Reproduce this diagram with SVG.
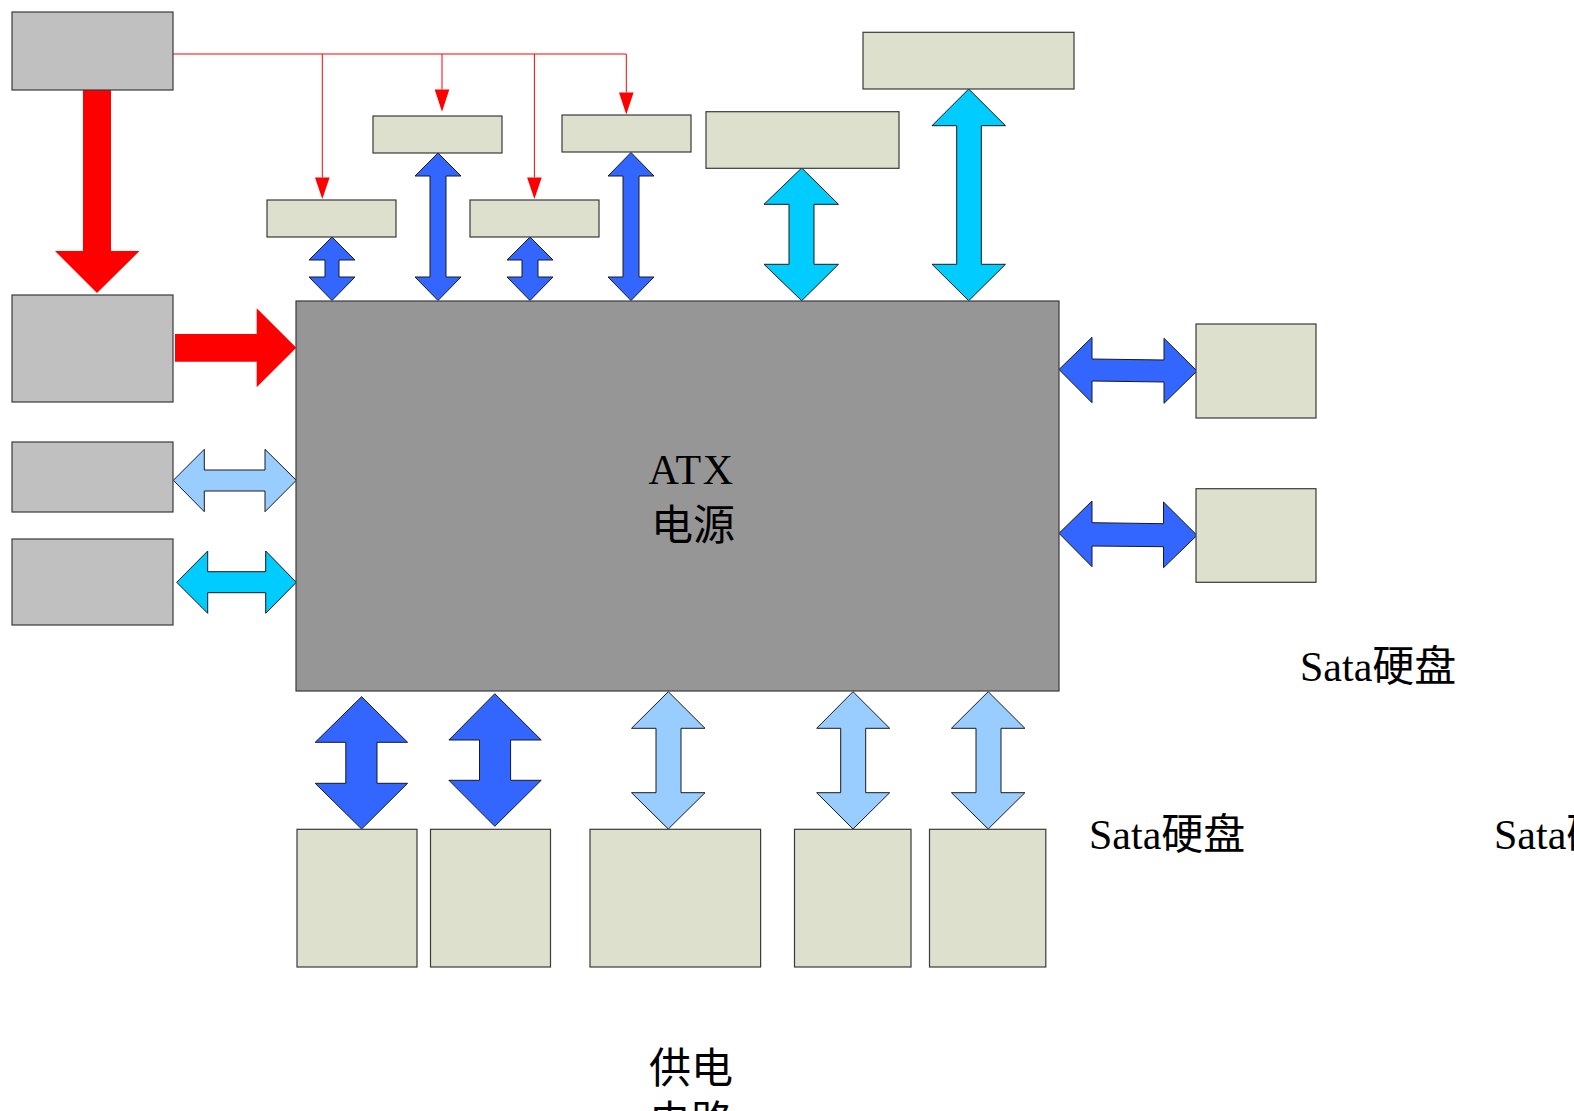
<svg xmlns="http://www.w3.org/2000/svg" width="1574" height="1111" viewBox="0 0 1574 1111">
<style>
.gray{fill:#c0c0c0;stroke:#3a3a3a;stroke-width:1.2}
.beige{fill:#dde0cc;stroke:#3a3a3a;stroke-width:1.2}
.main{fill:#969696;stroke:#3a3a3a;stroke-width:1.2}
.blue{fill:#3366ff;stroke:#1a1a1a;stroke-width:1}
.lblue{fill:#99ccff;stroke:#1a1a1a;stroke-width:1}
.cyan{fill:#00ccff;stroke:#1a1a1a;stroke-width:1}
.red{fill:#ff0000;stroke:none}
.wire{fill:none;stroke:#ff0000;stroke-width:1}
.txt{font-family:"Liberation Serif","Noto Sans CJK SC",serif;fill:#000}
</style>
<rect width="1574" height="1111" fill="#ffffff"/>

<g id="connectors">
<polyline class="wire" points="173,54 626.3,54"/>
<line class="wire" x1="322.3" y1="54" x2="322.3" y2="177.5"/>
<polygon class="red" points="315,177.5 329.6,177.5 322.3,199"/>
<line class="wire" x1="442" y1="54" x2="442" y2="89.5"/>
<polygon class="red" points="434.7,89.5 449.3,89.5 442,111.7"/>
<line class="wire" x1="534.4" y1="54" x2="534.4" y2="177.5"/>
<polygon class="red" points="527.1,177.5 541.7,177.5 534.4,199"/>
<line class="wire" x1="626.3" y1="54" x2="626.3" y2="92.5"/>
<polygon class="red" points="619,92.5 633.6,92.5 626.3,114.5"/>

<polygon class="red" points="83,90 111,90 111,251 139.5,251 97,293 55,251 83,251"/>
<polygon class="red" points="175,334 256.7,334 256.7,308.3 296.3,347.7 256.7,387.3 256.7,361.7 175,361.7"/>

<polygon class="blue" points="332,237 355,260 339,260 339,277 355,277 332,300.5 309,277 325,277 325,260 309,260"/>
<polygon class="blue" points="438,153 461,176 446,176 446,277 461,277 438,300.5 415,277 430,277 430,176 415,176"/>
<polygon class="blue" points="530,237 553,260 538,260 538,277 553,277 530,300.5 507,277 522,277 522,260 507,260"/>
<polygon class="blue" points="631,152.5 654,176 639,176 639,277 654,277 631,300.5 608,277 623,277 623,176 608,176"/>
<polygon class="cyan" points="801.7,168 838.5,204.3 814,204.3 814,264.3 838.5,264.3 801.7,300.7 764,264.3 789,264.3 789,204.3 764,204.3"/>
<polygon class="cyan" points="968.7,89 1005.5,125.7 981.3,125.7 981.3,264.3 1005.5,264.3 968.7,300.7 932,264.3 956.7,264.3 956.7,125.7 932,125.7"/>

<polygon class="lblue" points="173.3,480.3 204.3,449.3 204.3,470 265,470 265,449.3 296.3,480.3 265,511.7 265,491 204.3,491 204.3,511.7"/>
<polygon class="cyan" points="176.7,582.3 207.7,551 207.7,571.7 265.7,571.7 265.7,551 296.3,582.3 265.7,613.3 265.7,592.7 207.7,592.7 207.7,613.3"/>

<polygon class="blue" points="1059,369.5 1092,337.3 1092,359 1164,360 1164,338.3 1197,371 1164,403.3 1164,382 1092,381 1092,402.7"/>
<polygon class="blue" points="1059,533.3 1092,501 1092,522.7 1163.5,523.7 1163.5,502 1197,535.3 1163.5,567.7 1163.5,546.7 1092,546 1092,566.7"/>

<polygon class="blue" points="361.6,696.7 407.6,742.3 377,742.3 377,783.3 407.6,783.3 361.6,829 315.2,783.3 345.8,783.3 345.8,742.3 315.2,742.3"/>
<polygon class="blue" points="494.8,693.7 541.2,740 510.6,740 510.6,780.3 541.2,780.3 494.8,826.3 448.9,780.3 479.5,780.3 479.5,740 448.9,740"/>
<polygon class="lblue" points="668.3,691.7 705,728.3 681,728.3 681,792.7 705,792.7 668.3,829 631.5,792.7 656,792.7 656,728.3 631.5,728.3"/>
<polygon class="lblue" points="853,691.7 889.7,728.3 865.7,728.3 865.7,792.7 889.7,792.7 853,829 816.7,792.7 840.7,792.7 840.7,728.3 816.7,728.3"/>
<polygon class="lblue" points="988.2,691.7 1024.9,728.3 1001,728.3 1001,792.7 1024.9,792.7 988.2,829 951.4,792.7 976,792.7 976,728.3 951.4,728.3"/>
</g>

<g id="node-src"><rect class="gray" x="12" y="12" width="161" height="78"/></g>
<g id="node-left1"><rect class="gray" x="12" y="295" width="161" height="107"/></g>
<g id="node-left2"><rect class="gray" x="12" y="442" width="161" height="70"/></g>
<g id="node-left3"><rect class="gray" x="12" y="539" width="161" height="86"/></g>

<g id="node-top1"><rect class="beige" x="267" y="200" width="129" height="37"/></g>
<g id="node-top2"><rect class="beige" x="373" y="116" width="129" height="37"/></g>
<g id="node-top3"><rect class="beige" x="470" y="200" width="129" height="37"/></g>
<g id="node-top4"><rect class="beige" x="562" y="115" width="129" height="37"/></g>
<g id="node-top5"><rect class="beige" x="706" y="111.7" width="193" height="56.6"/></g>
<g id="node-top6"><rect class="beige" x="863" y="32.3" width="211" height="56.7"/></g>

<g id="node-atx">
<rect class="main" x="296" y="301" width="763" height="390"/>
<text class="txt" x="691.5" y="484.3" font-size="42" text-anchor="middle" letter-spacing="1.5">ATX</text>
<text class="txt" x="693" y="539.5" font-size="42" text-anchor="middle">电源</text>
</g>

<g id="node-right1"><rect class="beige" x="1196" y="324" width="120" height="94"/></g>
<g id="node-right2"><rect class="beige" x="1196" y="488.7" width="120" height="93.6"/></g>

<g id="node-bot1"><rect class="beige" x="297" y="829.3" width="120" height="137.7"/></g>
<g id="node-bot2"><rect class="beige" x="430.5" y="829.3" width="120" height="137.7"/></g>
<g id="node-bot3"><rect class="beige" x="590" y="829.3" width="170.6" height="137.7"/></g>
<g id="node-bot4"><rect class="beige" x="794.5" y="829.3" width="116.5" height="137.7"/></g>
<g id="node-bot5"><rect class="beige" x="929.5" y="829.3" width="116.3" height="137.7"/></g>

<g id="labels">
<text class="txt" x="1300" y="681" font-size="42">Sata硬盘</text>
<text class="txt" x="1089" y="849" font-size="42">Sata硬盘</text>
<text class="txt" x="1494" y="849" font-size="42">Sata硬盘</text>
<text class="txt" x="691" y="1083" font-size="42" text-anchor="middle">供电</text>
<text class="txt" x="691" y="1136" font-size="42" text-anchor="middle">电路</text>
</g>
</svg>
